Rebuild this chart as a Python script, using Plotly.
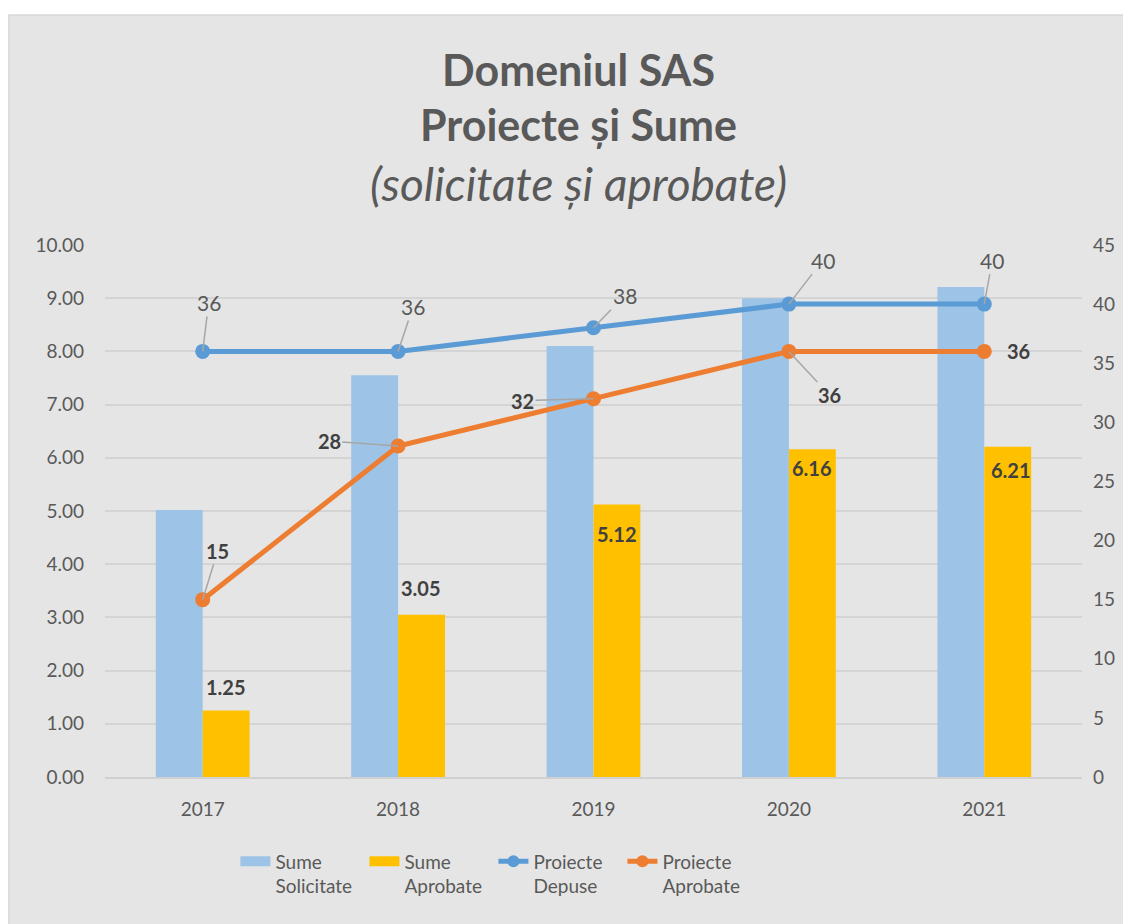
import plotly.graph_objects as go

years = ["2017", "2018", "2019", "2020", "2021"]
sume_solicitate = [5.02, 7.55, 8.10, 9.00, 9.21]
sume_aprobate = [1.25, 3.05, 5.12, 6.16, 6.21]
proiecte_depuse = [36, 36, 38, 40, 40]
proiecte_aprobate = [15, 28, 32, 36, 36]

FONT = "Lato"
GREY_TXT = "#595959"
DARK_TXT = "#404040"
LEADER = "#a6a6a6"
C_SOL, C_APR, C_DEP, C_PAP = "#9dc3e6", "#ffc000", "#5b9bd5", "#ed7d31"

fig = go.Figure()

fig.add_trace(go.Bar(x=years, y=sume_solicitate, name="Sume Solicitate",
                     marker=dict(color=C_SOL, line=dict(width=0)), showlegend=False))
fig.add_trace(go.Bar(x=years, y=sume_aprobate, name="Sume Aprobate",
                     marker=dict(color=C_APR, line=dict(width=0)), showlegend=False))
fig.add_trace(go.Scatter(x=years, y=proiecte_depuse, name="Proiecte Depuse",
                         yaxis="y2", mode="lines+markers",
                         line=dict(color=C_DEP, width=5),
                         marker=dict(size=15, color=C_DEP), showlegend=False))
fig.add_trace(go.Scatter(x=years, y=proiecte_aprobate, name="Proiecte Aprobate",
                         yaxis="y2", mode="lines+markers",
                         line=dict(color=C_PAP, width=5),
                         marker=dict(size=15, color=C_PAP), showlegend=False))

# legend-only entries (wide swatches like the original)
fig.add_trace(go.Scatter(x=[None], y=[None], name="Sume<br>Solicitate", mode="lines",
                         line=dict(color=C_SOL, width=12)))
fig.add_trace(go.Scatter(x=[None], y=[None], name="Sume<br>Aprobate", mode="lines",
                         line=dict(color=C_APR, width=12)))
fig.add_trace(go.Scatter(x=[None], y=[None], name="Proiecte<br>Depuse", mode="lines+markers",
                         line=dict(color=C_DEP, width=5), marker=dict(size=12, color=C_DEP)))
fig.add_trace(go.Scatter(x=[None], y=[None], name="Proiecte<br>Aprobate", mode="lines+markers",
                         line=dict(color=C_PAP, width=5), marker=dict(size=12, color=C_PAP)))

annotations = []

# labels on the approved-sums bars (pixel offsets from bar top)
bar_label_shift = [(23, 24), (23, 27), (23, -29), (23, -19), (27, -23)]
for i, (v, (dx, dy)) in enumerate(zip(sume_aprobate, bar_label_shift)):
    annotations.append(dict(x=i, y=v, xref="x", yref="y", text=f"<b>{v:.2f}</b>",
                            showarrow=False, xshift=dx, yshift=dy,
                            font=dict(family=FONT, size=20, color=DARK_TXT)))

# submitted projects labels (with leader lines)
depuse_off = [(6, -49), (15, -45), (31, -32), (34, -44), (8, -44)]
for i, (v, (dx, dy)) in enumerate(zip(proiecte_depuse, depuse_off)):
    annotations.append(dict(x=i, y=v, xref="x", yref="y2", text=str(v),
                            showarrow=True, ax=dx, ay=dy, arrowhead=0,
                            arrowwidth=1.5, arrowcolor=LEADER, standoff=0,
                            font=dict(family=FONT, size=21, color=GREY_TXT)))

# approved projects labels
aprob_off = [(15, -49), (-69, -5), (-71, 2), (41, 44), (34, 0)]
aprob_leader = [True, True, True, True, False]
for i, (v, (dx, dy), lead) in enumerate(zip(proiecte_aprobate, aprob_off, aprob_leader)):
    if lead:
        annotations.append(dict(x=i, y=v, xref="x", yref="y2", text=f"<b>{v}</b>",
                                showarrow=True, ax=dx, ay=dy, arrowhead=0,
                                arrowwidth=1.5, arrowcolor=LEADER, standoff=0,
                                font=dict(family=FONT, size=20, color=DARK_TXT)))
    else:
        annotations.append(dict(x=i, y=v, xref="x", yref="y2", text=f"<b>{v}</b>",
                                showarrow=False, xshift=dx, yshift=-dy,
                                font=dict(family=FONT, size=20, color=DARK_TXT)))

# title lines
for txt, ypos, size in [("<b>Domeniul SAS</b>", 1.329, 43),
                        ("<b>Proiecte și Sume</b>", 1.226, 43),
                        ("<i>(solicitate și aprobate)</i>", 1.115, 46)]:
    annotations.append(dict(x=0.485, y=ypos, xref="paper", yref="paper", text=txt,
                            showarrow=False, xanchor="center", yanchor="middle",
                            font=dict(family=FONT, size=size, color=GREY_TXT)))

# page body adds an 8px offset, so the figure is 8px smaller on each axis
fig.update_layout(
    width=1123, height=916,
    margin=dict(l=97, r=49, t=237, b=147, autoexpand=False),
    paper_bgcolor="white",
    plot_bgcolor="rgba(0,0,0,0)",
    barmode="group", bargap=0.52, bargroupgap=0,
    font=dict(family=FONT, size=19, color=GREY_TXT),
    annotations=annotations,
    shapes=[dict(type="rect", xref="paper", yref="paper", layer="below",
                 x0=-0.0983, x1=1.06, y0=-0.29, y1=1.4323,
                 fillcolor="#e5e5e5", line=dict(color="#d6d6d6", width=1.5))],
    xaxis=dict(type="category", range=[-0.5, 4.5], showgrid=False, showline=True,
               linecolor="#d0d0d0", linewidth=1.5, ticks="", ticklabelstandoff=14,
               tickfont=dict(family=FONT, size=19, color=GREY_TXT)),
    yaxis=dict(range=[0, 10], dtick=1, tickformat=".2f", showgrid=True,
               gridcolor="#d4d4d4", gridwidth=1.5, zeroline=False, showline=False,
               ticks="", ticklabelstandoff=20,
               tickfont=dict(family=FONT, size=19, color=GREY_TXT)),
    yaxis2=dict(range=[0, 45], dtick=5, overlaying="y", side="right", showgrid=False,
                zeroline=False, showline=False, ticks="", ticklabelstandoff=10,
                tickfont=dict(family=FONT, size=19, color=GREY_TXT)),
    legend=dict(orientation="h", x=0.1335, y=-0.123, xanchor="left", yanchor="top",
                valign="top", entrywidth=84, entrywidthmode="pixels",
                bgcolor="rgba(0,0,0,0)",
                font=dict(family=FONT, size=19, color=GREY_TXT)),
)

fig.write_html("out.html")
